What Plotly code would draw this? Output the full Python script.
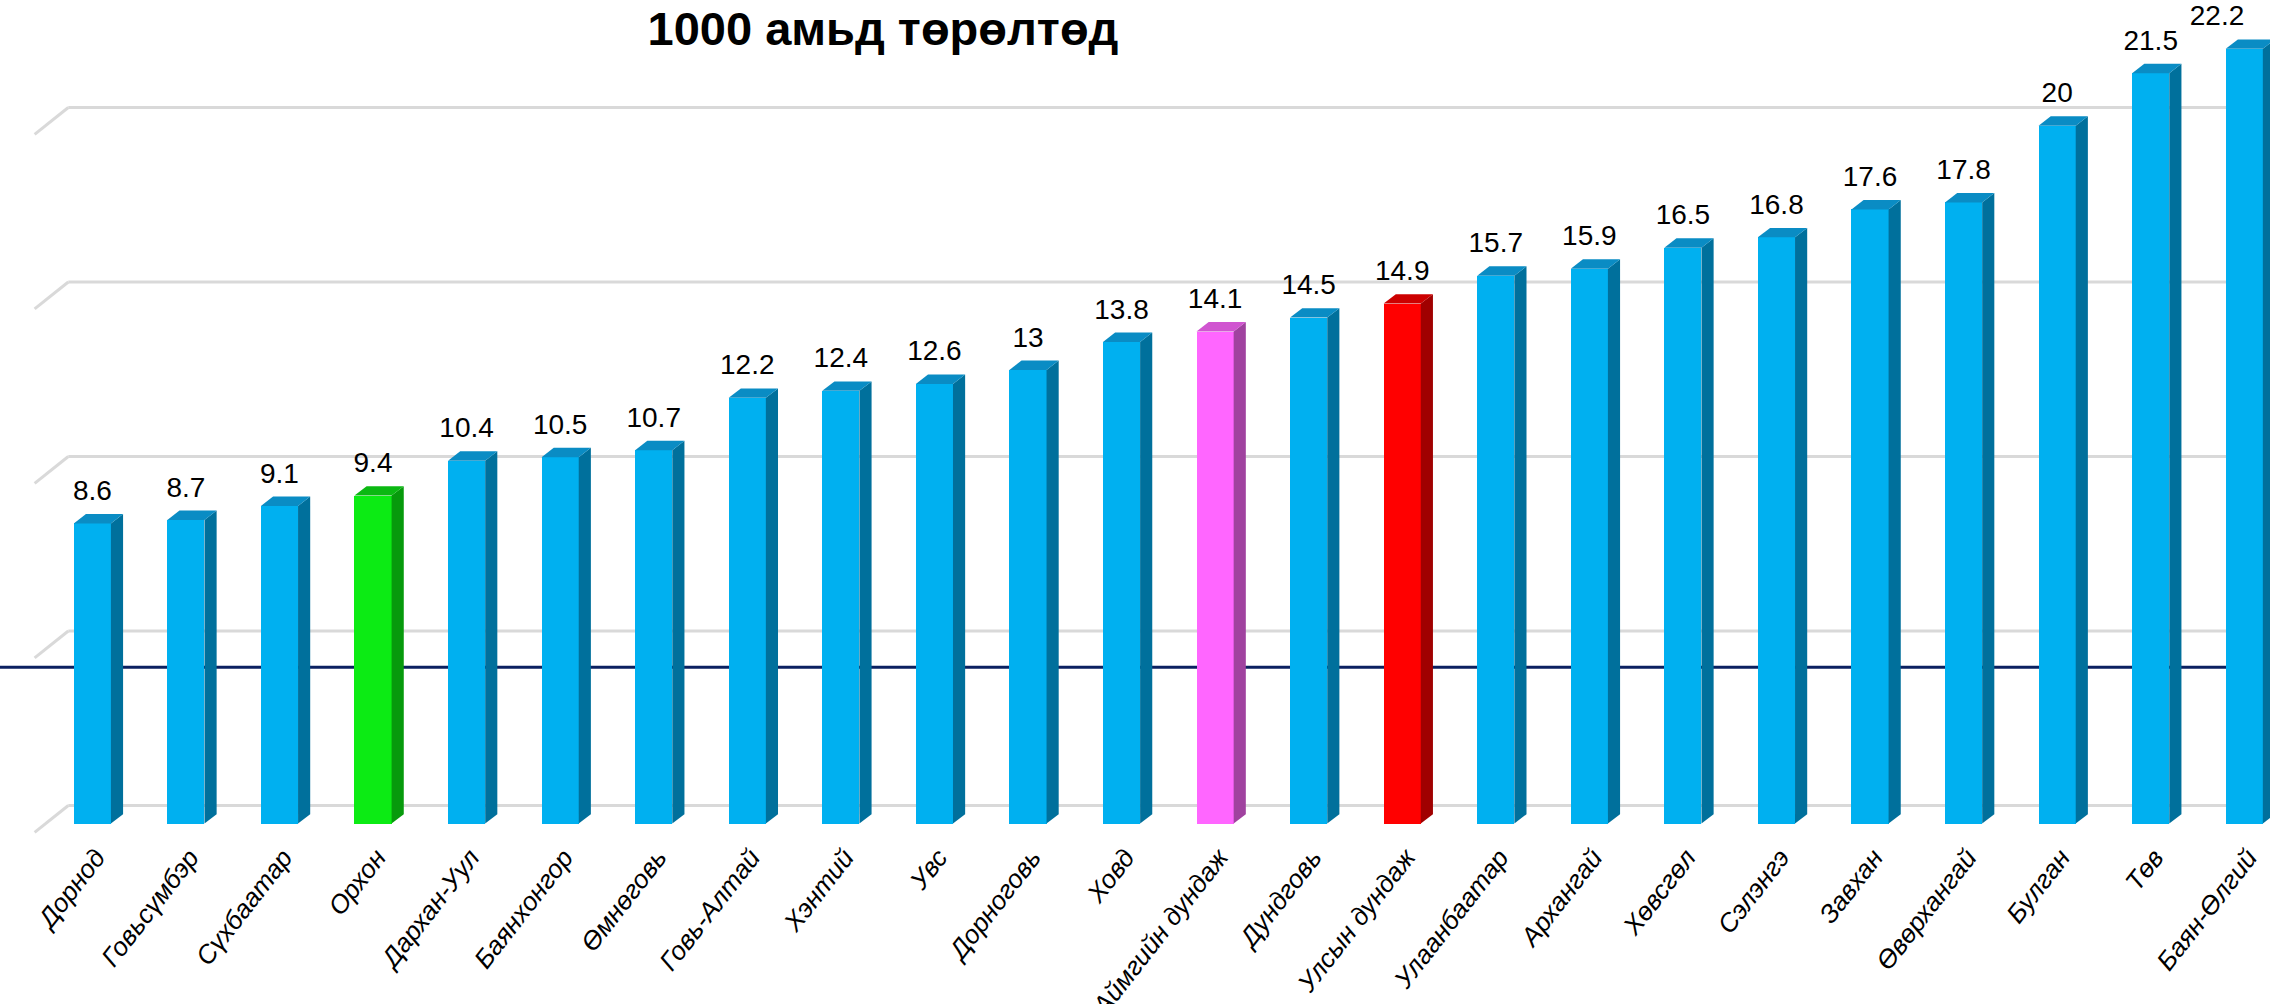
import plotly.graph_objects as go

# ---------------- data ----------------
categories = ["Дорнод", "Говьсүмбэр", "Сүхбаатар", "Орхон", "Дархан-Уул", "Баянхонгор",
              "Өмнөговь", "Говь-Алтай", "Хэнтий", "Увс", "Дорноговь", "Ховд",
              "Аймгийн дундаж", "Дундговь", "Улсын дундаж", "Улаанбаатар", "Архангай",
              "Хөвсгөл", "Сэлэнгэ", "Завхан", "Өвөрхангай", "Булган", "Төв", "Баян-Өлгий"]
values = [8.6, 8.7, 9.1, 9.4, 10.4, 10.5, 10.7, 12.2, 12.4, 12.6, 13, 13.8,
          14.1, 14.5, 14.9, 15.7, 15.9, 16.5, 16.8, 17.6, 17.8, 20, 21.5, 22.2]
value_labels = ["8.6", "8.7", "9.1", "9.4", "10.4", "10.5", "10.7", "12.2", "12.4", "12.6", "13", "13.8",
                "14.1", "14.5", "14.9", "15.7", "15.9", "16.5", "16.8", "17.6", "17.8", "20", "21.5", "22.2"]
highlight = {"Орхон": "green", "Аймгийн дундаж": "pink", "Улсын дундаж": "red"}
grid_values = [0, 5, 10, 15, 20]
reference_value = 4.48
title_text = "1000 амьд төрөлтөд"

# ---------------- styles ----------------
palette = {
    "blue": ("#00B0F0", "#00709C", "#0A8CC4"),
    "green": ("#0CEB14", "#079A0C", "#0BB812"),
    "pink": ("#FF66FF", "#A0429F", "#D055D0"),
    "red": ("#FF0000", "#A00000", "#CC0000"),
}
FONT = "Liberation Sans, Arial, sans-serif"
BAR_W = 0.397      # front-face width (category units)
DX = 0.13          # depth offset x (category units)
DY = 0.27          # depth offset y (value units)
LABEL_GAP = 0.2
WALL_DY = 0.52     # back-wall offset for gridlines
SLANT_DX = 0.36
SLANT_DY = 0.77
WALL_X = -0.257

idx = list(range(len(categories)))
kinds = [highlight.get(c, "blue") for c in categories]
front_colors = [palette[k][0] for k in kinds]
label_positions = ["top center"] * (len(idx) - 1) + ["top left"]

fig = go.Figure()

# front faces
fig.add_trace(go.Bar(x=idx, y=values, width=BAR_W, marker=dict(color=front_colors, line=dict(width=0)),
                     hoverinfo="skip", showlegend=False))

# side & top faces (derived from values)
for i, v, k in zip(idx, values, kinds):
    _, side_c, top_c = palette[k]
    xr = i + BAR_W / 2
    xl = i - BAR_W / 2
    fig.add_trace(go.Scatter(x=[xr, xr + DX, xr + DX, xr, xr], y=[0, DY, v + DY, v, 0],
                             fill="toself", fillcolor=side_c, mode="lines", line=dict(width=0),
                             hoverinfo="skip", showlegend=False))
    fig.add_trace(go.Scatter(x=[xl, xr, xr + DX, xl + DX, xl], y=[v, v, v + DY, v + DY, v],
                             fill="toself", fillcolor=top_c, mode="lines", line=dict(width=0),
                             hoverinfo="skip", showlegend=False))

# value labels
fig.add_trace(go.Scatter(x=idx, y=[v + DY + LABEL_GAP for v in values], mode="text", text=value_labels,
                         textposition=label_positions,
                         textfont=dict(family=FONT, size=28, color="#000000"),
                         hoverinfo="skip", showlegend=False, cliponaxis=False))

# gridlines on back wall + left wall slants
shapes = []
for g in grid_values:
    shapes.append(dict(type="line", xref="x", yref="y", x0=WALL_X, x1=30, y0=g + WALL_DY, y1=g + WALL_DY,
                       line=dict(color="#D9D9D9", width=3), layer="below"))
    shapes.append(dict(type="line", xref="x", yref="y", x0=WALL_X - SLANT_DX, x1=WALL_X,
                       y0=g + WALL_DY - SLANT_DY, y1=g + WALL_DY,
                       line=dict(color="#D9D9D9", width=3), layer="below"))
shapes.append(dict(type="line", xref="paper", yref="y", x0=0, x1=1, y0=reference_value, y1=reference_value,
                   line=dict(color="#0B2161", width=3), layer="below"))

fig.update_layout(
    width=2270, height=1004,
    margin=dict(l=0, r=0, t=0, b=168, autoexpand=False),
    paper_bgcolor="white", plot_bgcolor="white",
    shapes=shapes,
    title=dict(text="<b>" + title_text + "</b>", x=883 / 2270, xref="container", xanchor="center",
               y=1 - 29 / 1004, yref="container", yanchor="middle",
               font=dict(family=FONT, size=47, color="#000000")),
    xaxis=dict(range=[-0.987, 23.275], tickmode="array", tickvals=idx, ticktext=categories,
               tickangle=-52, showgrid=False, zeroline=False, showline=False, ticks="",
               ticklabelshift=4, automargin=False, ticklabeloverflow="allow",
               tickfont=dict(family=FONT, size=26, color="#000000", style="italic")),
    yaxis=dict(range=[-0.355, 23.6], visible=False, showgrid=False, zeroline=False, automargin=False),
    bargap=0,
)

fig.write_html("out.html", config={"displayModeBar": False},
               post_script="document.body.style.margin='0';document.body.style.overflow='hidden';")
